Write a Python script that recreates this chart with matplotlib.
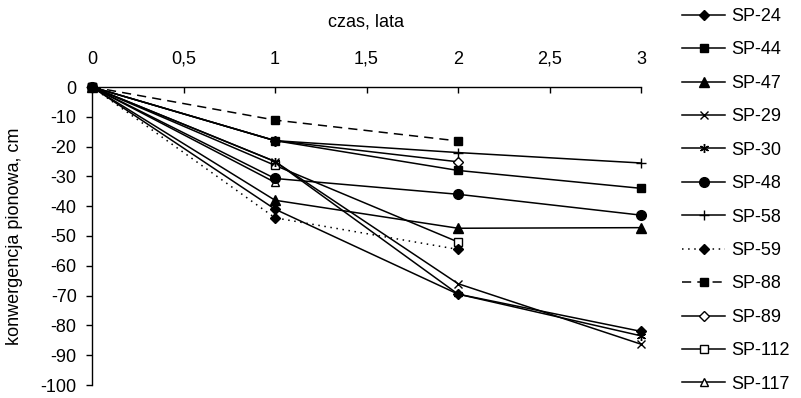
import numpy as np
import matplotlib
matplotlib.use("Agg")
import matplotlib.pyplot as plt
from matplotlib.ticker import FuncFormatter

plt.rcParams['font.family'] = ['Liberation Sans', 'DejaVu Sans']
plt.rcParams['axes.unicode_minus'] = False

# czas, lata
years = [0, 1, 2, 3]

names = ['SP-24', 'SP-44', 'SP-47', 'SP-29', 'SP-30', 'SP-48',
         'SP-58', 'SP-59', 'SP-88', 'SP-89', 'SP-112', 'SP-117']

# konwergencja pionowa, cm
sp24 = [0, -41, -69.5, -82]
sp44 = [0, -18, -28, -34]
sp47 = [0, -38, -47.4, -47.2]
sp29 = [0, -25, -66, -86.3]
sp30 = [0, -25, -69.5, -83.5]
sp48 = [0, -30.7, -36, -43]
sp58 = [0, -18, -22, -25.5]
sp59 = [0, -43.9, -54.5]
sp88 = [0, -11.1, -18.1]
sp89 = [0, -18, -25.1]
sp112 = [0, -26.3, -52]
sp117 = [0, -32]

series = [sp24, sp44, sp47, sp29, sp30, sp48, sp58, sp59, sp88, sp89, sp112, sp117]

# style per series: marker, linestyle, filled
styles = [
    ('D', '-', True),
    ('s', '-', True),
    ('^', '-', True),
    ('x', '-', True),
    ((6, 2, 0), '-', True),
    ('o', '-', True),
    ('+', '-', True),
    ('D', ':', True),
    ('s', '--', True),
    ('D', '-', False),
    ('s', '-', False),
    ('^', '-', False),
]
sizes = [5.5, 6, 6.5, 6, 6.5, 7, 7, 5.5, 6, 5, 5.5, 5.5]

fig = plt.figure(figsize=(8.01, 3.98), dpi=100)
ax = fig.add_axes([92 / 801, 1 - 385 / 398, (641 - 92) / 801, (385 - 87) / 398])

for name, vals, (mk, ls, filled), ms in zip(names, series, styles, sizes):
    z = 2 if not filled else (4 if name == 'SP-88' else 3)
    ax.plot(years[:len(vals)], vals, color='black', lw=1.1, linestyle=ls,
            marker=mk, markersize=ms, markeredgewidth=1.0,
            markerfacecolor='black' if filled else 'white',
            markeredgecolor='black', label=name, zorder=z,
            dashes=(6, 4) if ls == '--' else ((1, 3) if ls == ':' else (None, None)),
            clip_on=False)

ax.set_xlim(0, 3)
ax.set_ylim(-100, 0)
ax.set_xticks(np.arange(0, 3.01, 0.5))
ax.set_yticks(np.arange(-100, 1, 10))
ax.xaxis.set_major_formatter(FuncFormatter(lambda v, p: ('%g' % v).replace('.', ',')))
ax.yaxis.set_major_formatter(FuncFormatter(lambda v, p: '%d' % v))

ax.xaxis.tick_top()
ax.xaxis.set_label_position('top')
ax.spines['right'].set_visible(False)
ax.spines['bottom'].set_visible(False)
for s in ['left', 'top']:
    ax.spines[s].set_linewidth(1.0)

ax.tick_params(axis='x', direction='in', length=4.5, width=1.0, pad=14, labelsize=13)
ax.tick_params(axis='y', direction='out', length=4, width=1.0, pad=7, labelsize=13)

ax.set_xlabel('czas, lata', fontsize=13, labelpad=17)
ax.set_ylabel('konwergencja pionowa, cm', fontsize=13)
ax.yaxis.set_label_coords(-0.125, 0.5)

ax.legend(loc='upper left', bbox_to_anchor=(682 / 801, 1 - 8 / 398), bbox_transform=fig.transFigure,
          frameon=False, fontsize=13, handlelength=2.4, handletextpad=0.3,
          labelspacing=0.91, borderaxespad=0, borderpad=0)

fig.savefig('out.png', dpi=100)
